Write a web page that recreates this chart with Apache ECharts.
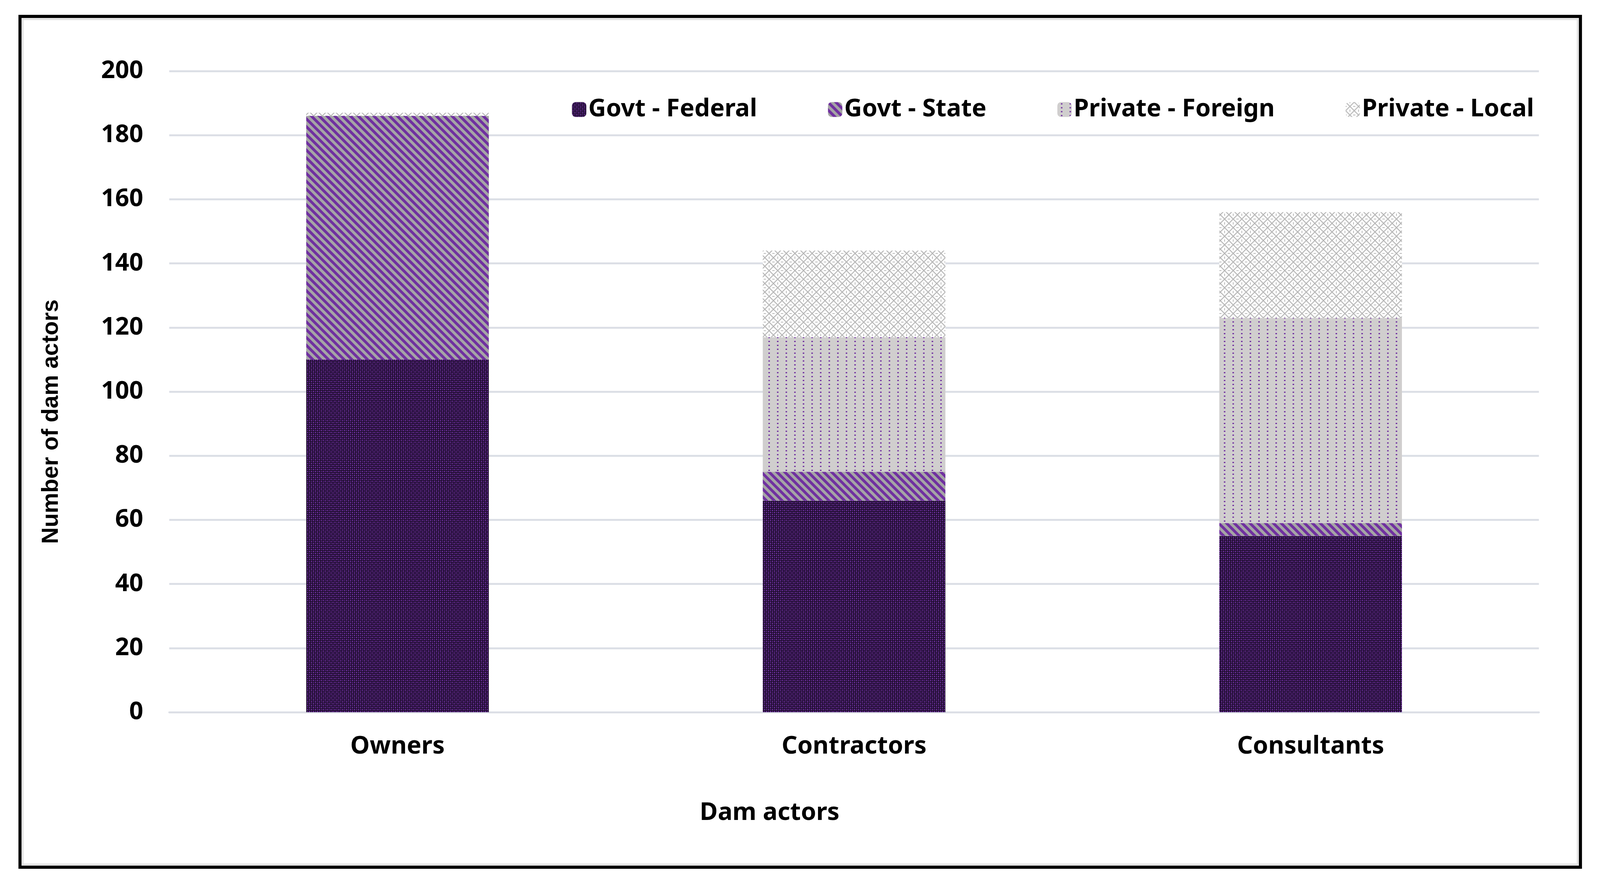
<!DOCTYPE html>
<html>
<head>
<meta charset="utf-8">
<title>Dam actors</title>
<script src="https://cdn.jsdelivr.net/npm/echarts@6/dist/echarts.min.js"></script>
<style>
  html, body { margin: 0; padding: 0; background: #fff; overflow: hidden; }
  #chart { width: 100vw; height: 100vh; }
</style>
</head>
<body>
<div id="chart"></div>
<script>
// data
var categories = ['Owners', 'Contractors', 'Consultants'];
var govtFederal = [110, 66, 55];
var govtState = [76, 9, 4];
var privateForeign = [0, 42, 64];
var privateLocal = [1, 27, 33];
var seriesNames = ['Govt - Federal', 'Govt - State', 'Private - Foreign', 'Private - Local'];

// layout was measured on a 4244x2264 picture, scale it to the real viewport
var sx = window.innerWidth / 4244;
var sy = window.innerHeight / 2264;
var sf = (sx + sy) / 2;
function px(v) { return Math.round(v * sx * 10) / 10; }
function py(v) { return Math.round(v * sy * 10) / 10; }
function pf(v) { return Math.round(v * sf * 10) / 10; }

// small canvas tiles for the Excel-like fill patterns
function makeTile(w, h, draw) {
  var c = document.createElement('canvas');
  c.width = w;
  c.height = h;
  draw(c.getContext('2d'), w, h);
  return { image: c, repeat: 'repeat' };
}

var federalFill = makeTile(10, 10, function (ctx, w, h) {
  ctx.fillStyle = '#1b0b28';
  ctx.fillRect(0, 0, w, h);
  ctx.fillStyle = '#7a35b0';
  ctx.fillRect(1, 1, 3, 3);
  ctx.fillRect(6, 6, 3, 3);
  ctx.fillStyle = '#5a2888';
  ctx.fillRect(6, 1, 3, 3);
  ctx.fillRect(1, 6, 3, 3);
});

var stateFill = makeTile(20, 20, function (ctx, w, h) {
  ctx.fillStyle = '#a5a5a5';
  ctx.fillRect(0, 0, w, h);
  ctx.strokeStyle = '#7030a0';
  ctx.lineWidth = 7;
  [-20, 0, 20].forEach(function (x0) {
    ctx.beginPath();
    ctx.moveTo(x0 - 5, -5);
    ctx.lineTo(x0 + 25, 25);
    ctx.stroke();
  });
});

var foreignFill = makeTile(22, 10, function (ctx, w, h) {
  ctx.fillStyle = '#d0cece';
  ctx.fillRect(0, 0, w, h);
  ctx.fillStyle = '#7030a0';
  ctx.fillRect(9, 3, 4, 3);
});

var localFill = makeTile(22, 22, function (ctx, w, h) {
  ctx.fillStyle = '#ffffff';
  ctx.fillRect(0, 0, w, h);
  ctx.strokeStyle = '#b8b8b8';
  ctx.lineWidth = 2.5;
  ctx.beginPath();
  ctx.moveTo(0, 0); ctx.lineTo(22, 22);
  ctx.moveTo(22, 0); ctx.lineTo(0, 22);
  ctx.stroke();
  ctx.fillStyle = '#b8b8b8';
  ctx.fillRect(0, 10, 3, 2);
  ctx.fillRect(19, 10, 3, 2);
  ctx.fillRect(10, 0, 2, 3);
  ctx.fillRect(10, 19, 2, 3);
});

var fills = [federalFill, stateFill, foreignFill, localFill];
var values = [govtFederal, govtState, privateForeign, privateLocal];

var chart = echarts.init(document.getElementById('chart'));

var option = {
  backgroundColor: '#ffffff',
  animation: false,
  textStyle: { fontFamily: 'Noto Sans' },
  graphic: [
    {
      type: 'rect',
      shape: { x: px(53), y: py(42), width: px(4139), height: py(2179) },
      style: { fill: null, stroke: '#000', lineWidth: pf(8) },
      silent: true
    },
    {
      type: 'rect',
      shape: { x: px(60), y: py(49), width: px(4125), height: py(2165) },
      style: { fill: null, stroke: '#e3e3e3', lineWidth: pf(5) },
      silent: true
    }
  ],
  legend: {
    data: seriesNames,
    left: px(1512),
    top: py(244),
    itemWidth: px(38),
    itemHeight: py(38),
    itemGap: px(188),
    textStyle: { fontSize: pf(64), fontWeight: 'bold', color: '#000', fontFamily: 'Noto Sans' }
  },
  grid: { left: px(449), right: px(162), top: py(182), bottom: py(440) },
  xAxis: {
    type: 'category',
    data: categories,
    name: 'Dam actors',
    nameLocation: 'middle',
    nameGap: py(227),
    nameTextStyle: { fontSize: pf(64), fontWeight: 'bold', color: '#000', padding: [0, px(448), 0, 0] },
    axisLine: { show: true, lineStyle: { color: '#dcdfe6', width: pf(5) } },
    axisTick: { show: false },
    axisLabel: { fontSize: pf(64), fontWeight: 'bold', color: '#000', margin: py(57) }
  },
  yAxis: {
    type: 'value',
    min: 0,
    max: 200,
    interval: 20,
    name: 'Number of dam actors',
    nameLocation: 'middle',
    nameGap: px(282),
    nameTextStyle: { fontSize: pf(60), fontWeight: 'bold', color: '#000', fontFamily: 'Liberation Sans', padding: [0, py(154), 0, 0] },
    axisLine: { show: false },
    axisTick: { show: false },
    splitLine: { lineStyle: { color: '#dcdfe6', width: pf(5) } },
    axisLabel: { fontSize: pf(64), fontWeight: 'bold', color: '#000', margin: px(69) }
  },
  series: seriesNames.map(function (name, i) {
    return {
      name: name,
      type: 'bar',
      stack: 'actors',
      barWidth: '40%',
      data: values[i],
      itemStyle: { color: fills[i] }
    };
  })
};

chart.setOption(option);
</script>
</body>
</html>
